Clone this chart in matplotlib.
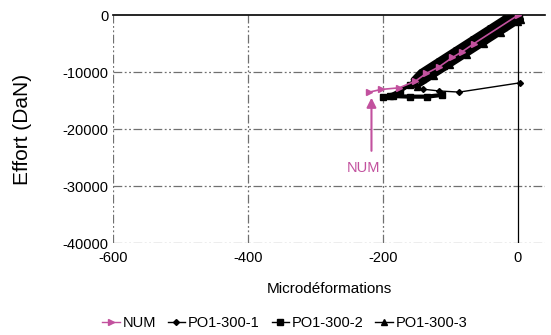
import numpy as np
import matplotlib
matplotlib.use('Agg')
import matplotlib.pyplot as plt

plt.rcParams['font.family'] = ['Liberation Sans', 'DejaVu Sans']
plt.rcParams['axes.unicode_minus'] = False

# courbe numerique
num_x = [0, -65, -83, -97, -117, -136, -152, -176, -203, -220]
num_y = [0, -4970, -6430, -7420, -9070, -10230, -11580, -12750, -13040, -13500]

# essais
po1_x = [3, -87, -117, -140, -150]
po1_y = [-11870, -13500, -13300, -13000, -12600]

po2_x = [2, -20, -45, -70, -95, -120, -145, -160, -175, -190, -200, -185, -160, -135, -112]
po2_y = [-300, -1300, -3200, -5100, -7000, -8900, -10900, -12200, -13300, -14200, -14400, -14200, -14300, -14300, -14000]

po3_x = [3, -20, -45, -70, -95, -120, -145, -156, -150, -125, -100, -75, -50, -25, 0, 4,
         -25, -55, -85, -115, -140, -152, -140, -110, -80, -50, -20, 3]
po3_y = [-100, -400, -2300, -4200, -6100, -8000, -9900, -11300, -12600, -10700, -8800, -6900, -5000, -3100, -1200, -800,
         -1300, -3500, -5800, -8100, -10000, -11700, -11200, -8900, -6600, -4300, -2100, -400]

xticks = [-600, -400, -200, 0]
yticks = [0, -10000, -20000, -30000, -40000]

mag = '#c2519e'
grid_dash = (0, (7, 2, 1.5, 2, 1.5, 2))

fig = plt.figure(figsize=(5.51, 3.35), dpi=100)
ax = fig.add_axes([0.205, 0.2746, 0.784, 0.680])

ax.set_xlim(-600, 40)
ax.set_ylim(-40000, 0)
for s in ax.spines.values():
    s.set_visible(False)

for xv in xticks[:-1]:
    ax.axvline(xv, color='#707070', lw=0.9, linestyle=grid_dash, zorder=1)
for yv in yticks[1:]:
    ax.axhline(yv, color='#707070', lw=0.9, linestyle=grid_dash, zorder=1)
ax.axvline(0, color='black', lw=0.9, zorder=1)
ax.axhline(0, color='black', lw=1.2, zorder=1, clip_on=False)

ax.plot(po1_x, po1_y, '-D', c='black', lw=1, ms=3, label='PO1-300-1', zorder=3)
ax.plot(po2_x, po2_y, '-s', c='black', lw=3, ms=4, label='PO1-300-2', zorder=3)
ax.plot(po3_x, po3_y, '-^', c='black', lw=3, ms=4, label='PO1-300-3', zorder=3)
ax.plot(num_x, num_y, '->', c=mag, lw=1.2, ms=5, label='NUM', zorder=4)

ax.annotate('', xy=(-217, -14000), xytext=(-217, -24300),
            arrowprops=dict(arrowstyle='-|>', color=mag, lw=1.5, mutation_scale=14))
ax.text(-229, -26800, 'NUM', color=mag, fontsize=10.5, ha='center', va='center')

ax.set_xticks(xticks)
ax.set_yticks(yticks)
ax.tick_params(length=0, labelsize=10.5)
ax.tick_params(axis='x', pad=6)
ax.tick_params(axis='y', pad=3)
ax.set_xlabel(u'Microdéformations', fontsize=11, labelpad=12)
ax.set_ylabel('Effort (DaN)', fontsize=15, labelpad=22)

h, l = ax.get_legend_handles_labels()
order = [3, 0, 1, 2]
leg = fig.legend([h[i] for i in order], [l[i] for i in order], loc='center',
                 bbox_to_anchor=(0.517, 0.036), ncol=4, frameon=False, fontsize=10.5,
                 handlelength=1.2, handletextpad=0.2, columnspacing=0.8)
for lh in leg.legend_handles:
    lh.set_linewidth(1)

plt.savefig('out.png', dpi=100)
